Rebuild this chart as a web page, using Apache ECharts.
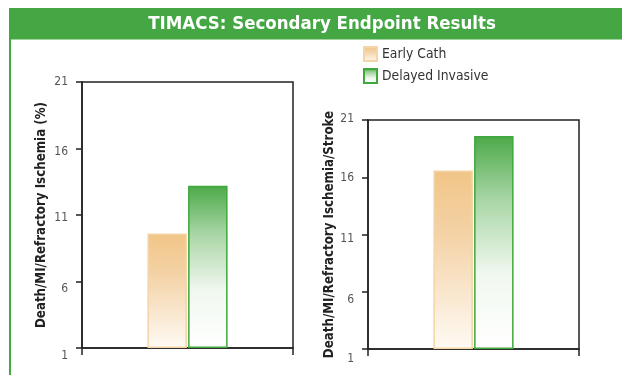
<!DOCTYPE html>
<html>
<head>
<meta charset="utf-8">
<script src="https://cdn.jsdelivr.net/npm/echarts@6/dist/echarts.min.js"></script>
<style>
html,body{margin:0;padding:0;background:#fff;}
#main{width:622px;height:375px;}
</style>
</head>
<body>
<div id="main"></div>
<script>
const titleText = 'TIMACS: Secondary Endpoint Results';
const categories = [''];
const seriesNames = ['Early Cath', 'Delayed Invasive'];
const leftEarly = [9.6];
const leftDelayed = [13.2];
const rightEarly = [16.6];
const rightDelayed = [19.6];
const leftAxisName = 'Death/MI/Refractory Ischemia (%)';
const rightAxisName = 'Death/MI/Refractory Ischemia/Stroke';
const yMin = 1, yMax = 21, yStep = 5;

const FONT = "'Liberation Sans Narrow', 'DejaVu Sans Condensed', 'Arial Narrow', sans-serif";
const GREEN = '#44a744';

const orangeFill = new echarts.graphic.LinearGradient(0, 0, 0, 1, [
  {offset: 0, color: '#f1c588'},
  {offset: 0.35, color: '#f4d2a5'},
  {offset: 1, color: '#fefaf4'}
]);
const greenFill = new echarts.graphic.LinearGradient(0, 0, 0, 1, [
  {offset: 0, color: '#4caa49'},
  {offset: 0.3, color: '#a9d6a6'},
  {offset: 0.65, color: '#f1f8f0'},
  {offset: 1, color: '#ffffff'}
]);
const orangeStyle = {color: orangeFill, borderColor: '#f5d4a6', borderWidth: 1.5};
const greenStyle = {color: greenFill, borderColor: '#3ea83c', borderWidth: 1.5};

// small downward shifts of tick labels (styling only)
const leftShift = {21: 0, 16: 3, 11: 3, 6: 7, 1: 8};
const rightShift = {21: -1, 16: 1, 11: 4, 6: 8, 1: 10};
function richFor(shift) {
  const r = {};
  Object.keys(shift).forEach(k => {
    const d = shift[k];
    r['t' + k] = {
      fontFamily: FONT, fontSize: 12, color: '#555',
      padding: d >= 0 ? [2 * d, 0, 0, 0] : [0, 0, -2 * d, 0]
    };
  });
  return r;
}

function yAxisCfg(gridIndex, name, gap, shift) {
  return {
    type: 'value', gridIndex: gridIndex, min: yMin, max: yMax, interval: yStep, startValue: yMin,
    name: name, nameLocation: 'middle', nameGap: gap, nameRotate: 90,
    nameTextStyle: {fontFamily: FONT, fontWeight: 'bold', fontSize: 13.2, color: '#222'},
    axisLine: {show: true, lineStyle: {color: '#222', width: 1.5}},
    axisTick: {show: true, length: 6, lineStyle: {color: '#222', width: 1.5}},
    axisLabel: {
      fontFamily: FONT, fontSize: 12, color: '#555', margin: 14,
      formatter: v => '{t' + v + '|' + v + '}',
      rich: richFor(shift)
    },
    splitLine: {show: false}
  };
}
function xAxisCfg(gridIndex) {
  return {
    type: 'category', gridIndex: gridIndex, data: categories,
    axisLine: {show: true, lineStyle: {color: '#222', width: 1.5}},
    axisTick: {show: true, length: 7, lineStyle: {color: '#222', width: 1.5}},
    axisLabel: {show: false}
  };
}
function bar(name, x, data, style) {
  return {
    type: 'bar', name: name, xAxisIndex: x, yAxisIndex: x, data: data,
    barWidth: 39.5, barGap: '3%', itemStyle: style
  };
}

const chart = echarts.init(document.getElementById('main'), null, {renderer: 'canvas'});
chart.setOption({
  animation: false,
  backgroundColor: '#fff',
  graphic: [
    {type: 'rect', shape: {x: 9, y: 8, width: 613, height: 31.5}, style: {fill: GREEN}, z: -1},
    {type: 'rect', shape: {x: 9, y: 39, width: 2, height: 336}, style: {fill: GREEN}, z: -1}
  ],
  title: {
    text: titleText, left: 322, top: 24, padding: 0, textAlign: 'center', textVerticalAlign: 'middle',
    textStyle: {fontFamily: FONT, fontWeight: 'bold', fontSize: 18.5, color: '#fff'}
  },
  legend: {
    data: seriesNames, orient: 'vertical', left: 363, top: 46, padding: 0,
    icon: 'rect', itemWidth: 13, itemHeight: 14, itemGap: 6,
    textStyle: {fontFamily: FONT, fontSize: 13.8, color: '#333'}
  },
  grid: [
    {left: 82, top: 82, right: 329, bottom: 27, show: true, borderColor: '#222', borderWidth: 1.5, containLabel: false},
    {left: 368, top: 120, right: 43, bottom: 26, show: true, borderColor: '#222', borderWidth: 1.5, containLabel: false}
  ],
  xAxis: [xAxisCfg(0), xAxisCfg(1)],
  yAxis: [yAxisCfg(0, leftAxisName, 34, leftShift), yAxisCfg(1, rightAxisName, 32, rightShift)],
  series: [
    bar(seriesNames[0], 0, leftEarly, orangeStyle),
    bar(seriesNames[1], 0, leftDelayed, greenStyle),
    bar(seriesNames[0], 1, rightEarly, orangeStyle),
    bar(seriesNames[1], 1, rightDelayed, greenStyle)
  ]
});
</script>
</body>
</html>
